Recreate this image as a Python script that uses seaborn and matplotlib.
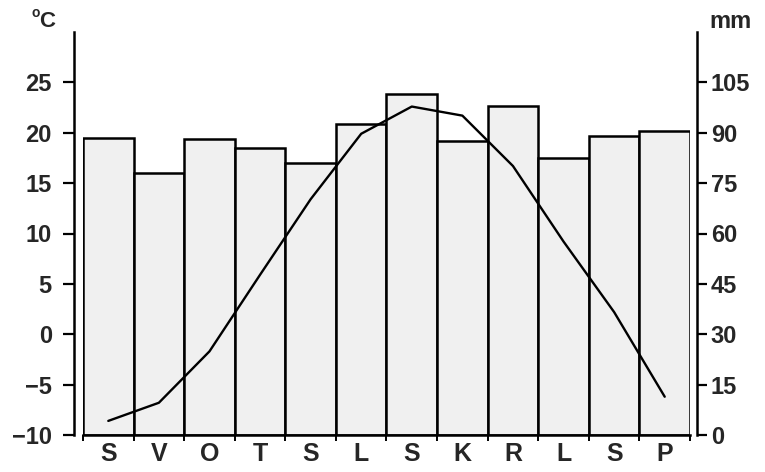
import numpy as np
import pandas as pd
import matplotlib
matplotlib.use('Agg')
import matplotlib.pyplot as plt
import seaborn as sns

# datos del climograma
months = ['S', 'V', 'O', 'T', 'S', 'L', 'S', 'K', 'R', 'L', 'S', 'P']
precip_mm = [88.5, 78, 88, 85.5, 81, 92.5, 101.5, 87.5, 98, 82.5, 89, 90.5]
temp_c = [-8.6, -6.8, -1.7, 5.9, 13.4, 19.9, 22.6, 21.7, 16.7, 9.2, 2.2, -6.2]
temp_ticks = [-10, -5, 0, 5, 10, 15, 20, 25]
mm_ticks = [0, 15, 30, 45, 60, 75, 90, 105]

df = pd.DataFrame({'idx': range(len(months)), 'mes': months,
                   'mm': precip_mm, 'temp': temp_c})

sns.set_style('white')
plt.rcParams['font.family'] = ['Liberation Sans', 'DejaVu Sans']
plt.rcParams['font.weight'] = 'bold'
plt.rcParams['axes.unicode_minus'] = True

fig = plt.figure(figsize=(7.65, 4.72), dpi=100)
ax = fig.add_axes([83 / 765, 37 / 472, 607 / 765, 403 / 472])
ax2 = ax.twinx()

# barras de precipitacion (eje derecho, mm)
sns.barplot(data=df, x='idx', y='mm', ax=ax2, width=1, color='#f0f0f0',
            saturation=1, edgecolor='black', linewidth=1.8)

# linea de temperatura (eje izquierdo, grados)
sns.lineplot(data=df, x='idx', y='temp', ax=ax, color='black', linewidth=1.7)

ax.set_zorder(ax2.get_zorder() + 1)
ax.patch.set_visible(False)

ax.set_xlim(-0.5, 11.5)
ax.set_ylim(-10, 30)
ax2.set_ylim(0, 120)

ax.set_yticks(temp_ticks)
ax2.set_yticks(mm_ticks)
ax.set_xticks(range(len(months)), months)
ax.set_xticks(np.arange(-0.5, 12, 1), minor=True)

ax.set_xlabel('')
ax.set_ylabel('')
ax2.set_xlabel('')
ax2.set_ylabel('')

for s in ['top', 'right']:
    ax.spines[s].set_visible(False)
for s in ['top', 'left', 'bottom']:
    ax2.spines[s].set_visible(False)
ax.spines['left'].set_position(('outward', 6.5))
ax2.spines['right'].set_position(('outward', 5))
for sp in [ax.spines['left'], ax.spines['bottom'], ax2.spines['right']]:
    sp.set_linewidth(1.8)
    sp.set_color('black')

ax.tick_params(axis='y', which='major', left=True, length=8, width=1.6,
               pad=8, labelsize=17, color='black')
ax2.tick_params(axis='y', which='major', right=True, length=7, width=1.6,
                pad=3, labelsize=17, color='black')
ax.tick_params(axis='x', which='major', bottom=True, length=0, pad=5,
               labelsize=18)
ax.tick_params(axis='x', which='minor', bottom=True, length=4, width=1.4,
               color='black')
ax2.tick_params(axis='x', which='both', bottom=False, labelbottom=False)

for lab in ax.get_yticklabels() + ax2.get_yticklabels() + ax.get_xticklabels():
    lab.set_fontweight('bold')

fig.text(31 / 765, 1 - 17 / 472, 'o', fontsize=10, fontweight='bold',
         ha='left', va='baseline')
fig.text(39 / 765, 1 - 27 / 472, 'C', fontsize=16, fontweight='bold',
         ha='left', va='baseline')
fig.text(709 / 765, 1 - 28 / 472, 'mm', fontsize=17, fontweight='bold',
         ha='left', va='baseline')

fig.savefig('out.png', dpi=100)
